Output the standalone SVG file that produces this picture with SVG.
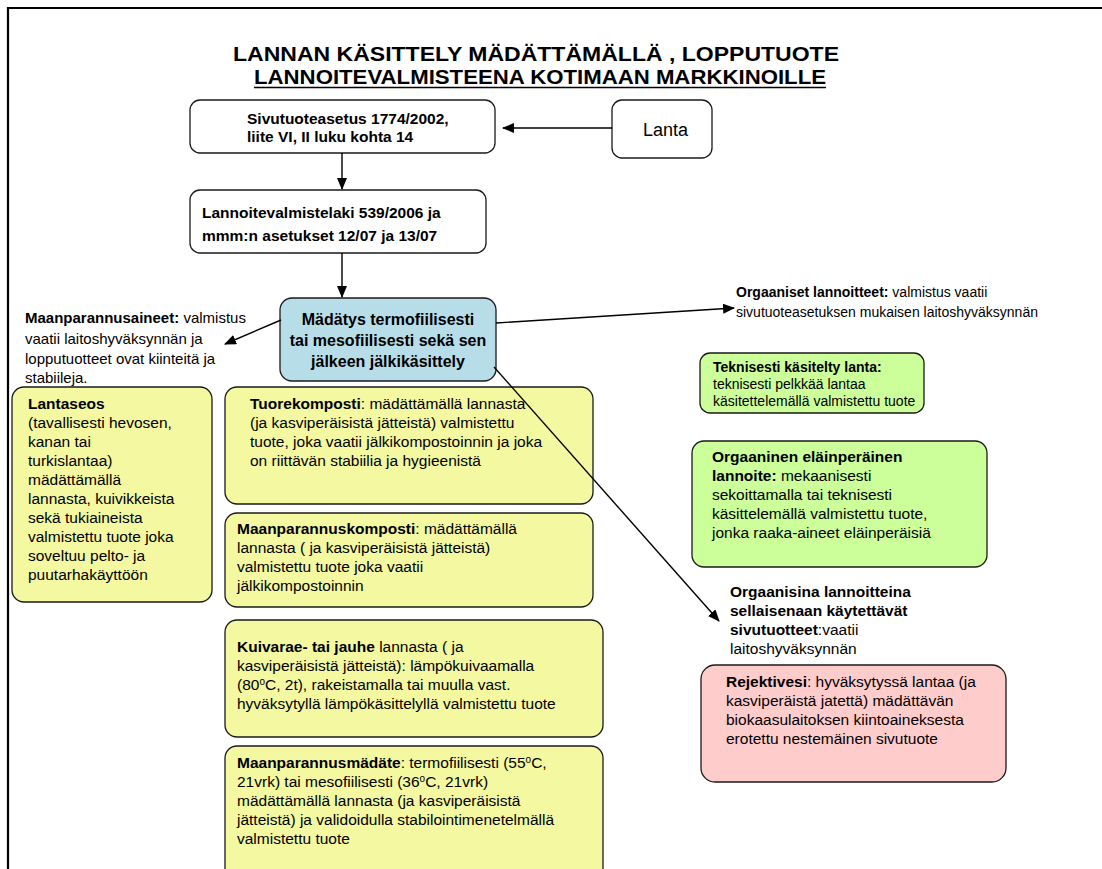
<svg xmlns="http://www.w3.org/2000/svg" width="1102" height="869" viewBox="0 0 1102 869">
  <style>
    .t { font-family: "Liberation Sans", Arial, sans-serif; font-size: 15.5px; fill: #000; }
    .s { font-size: 14px; }
    .m { font-size: 15px; }
    .b { font-weight: bold; }
    .box { stroke: #1a1a1a; stroke-width: 1.3; }
    .white { fill: #ffffff; }
    .yellow { fill: #f3f8a1; }
    .green { fill: #ccff99; }
    .teal { fill: #b7dde8; }
    .pink { fill: #ffcccc; }
    .edge { fill: none; stroke: #000; stroke-width: 1.4; }
    .title { font-family: "Liberation Sans Narrow", "Liberation Sans", Arial, sans-serif; font-size: 20px; font-weight: bold; fill: #000; }
  </style>
  <defs>
    <marker id="arrow" markerUnits="userSpaceOnUse" markerWidth="12" markerHeight="10" refX="11" refY="5" orient="auto">
      <path d="M0,0 L12,5 L0,10 Z" fill="#000"/>
    </marker>
  </defs>

  <rect width="1102" height="869" fill="#ffffff"/>
  <!-- page frame -->
  <path d="M8,869 V8 H1102" fill="none" stroke="#000" stroke-width="2.2"/>

  <!-- heading -->
  <g id="heading">
    <text class="title" x="536" y="61" text-anchor="middle" textLength="606" lengthAdjust="spacingAndGlyphs">LANNAN KÄSITTELY MÄDÄTTÄMÄLLÄ , LOPPUTUOTE</text>
    <text class="title" x="540" y="84" text-anchor="middle" textLength="572" lengthAdjust="spacingAndGlyphs">LANNOITEVALMISTEENA KOTIMAAN MARKKINOILLE</text>
    <line x1="254" y1="87.5" x2="826" y2="87.5" stroke="#000" stroke-width="1.6"/>
  </g>

  <g id="sivutuoteasetus">
    <rect class="box white" x="190" y="100" width="305" height="53" rx="10"/>
    <text class="t b" x="247" y="124">Sivutuoteasetus 1774/2002,</text>
    <text class="t b" x="247" y="142">liite VI, II luku kohta 14</text>
  </g>

  <g id="lanta">
    <rect class="box white" x="612" y="100" width="100" height="58" rx="10"/>
    <text class="t" x="643" y="136" style="font-size:18px">Lanta</text>
  </g>

  <g id="lannoitevalmistelaki">
    <rect class="box white" x="190" y="190" width="296" height="63" rx="10"/>
    <text class="t b" x="202" y="218">Lannoitevalmistelaki 539/2006 ja</text>
    <text class="t b" x="202" y="241">mmm:n asetukset 12/07 ja 13/07</text>
  </g>

  <g id="madatys">
    <rect class="box teal" x="280" y="298" width="216" height="83" rx="12"/>
    <text class="t b" x="388" y="325" text-anchor="middle" style="font-size:16px">Mädätys termofiilisesti</text>
    <text class="t b" x="388" y="346" text-anchor="middle" style="font-size:16px">tai mesofiilisesti sekä sen</text>
    <text class="t b" x="388" y="367" text-anchor="middle" style="font-size:16px">jälkeen jälkikäsittely</text>
  </g>

  <g id="maanparannusaineet">
    <text class="t m" x="25" y="323"><tspan class="b">Maanparannusaineet:</tspan> valmistus</text>
    <text class="t m" x="25" y="344">vaatii laitoshyväksynnän  ja</text>
    <text class="t m" x="25" y="364">lopputuotteet ovat kiinteitä ja</text>
    <text class="t m" x="25" y="383">stabiileja.</text>
  </g>

  <g id="orgaaniset-lannoitteet">
    <text class="t s" x="736" y="297"><tspan class="b">Orgaaniset lannoitteet:</tspan> valmistus vaatii</text>
    <text class="t s" x="736" y="317">sivutuoteasetuksen mukaisen laitoshyväksynnän</text>
  </g>

  <g id="lantaseos">
    <rect class="box yellow" x="12" y="387" width="200" height="215" rx="12"/>
    <text class="t b" x="28" y="409">Lantaseos</text>
    <text class="t" x="28" y="428">(tavallisesti hevosen,</text>
    <text class="t" x="28" y="447">kanan tai</text>
    <text class="t" x="28" y="466">turkislantaa)</text>
    <text class="t" x="28" y="485">mädättämällä</text>
    <text class="t" x="28" y="504">lannasta, kuivikkeista</text>
    <text class="t" x="28" y="523">sekä tukiaineista</text>
    <text class="t" x="28" y="542">valmistettu tuote joka</text>
    <text class="t" x="28" y="561">soveltuu pelto- ja</text>
    <text class="t" x="28" y="580">puutarhakäyttöön</text>
  </g>

  <g id="tuorekomposti">
    <rect class="box yellow" x="225" y="387" width="368" height="117" rx="12"/>
    <text class="t" x="250" y="409"><tspan class="b">Tuorekomposti</tspan>: mädättämällä lannasta</text>
    <text class="t" x="250" y="428">(ja kasviperäisistä jätteistä) valmistettu</text>
    <text class="t" x="250" y="447">tuote, joka vaatii jälkikompostoinnin ja joka</text>
    <text class="t" x="250" y="466">on riittävän stabiilia ja hygieenistä</text>
  </g>

  <g id="maanparannuskomposti">
    <rect class="box yellow" x="225" y="513" width="368" height="94" rx="12"/>
    <text class="t" x="237" y="534"><tspan class="b">Maanparannuskomposti</tspan>: mädättämällä</text>
    <text class="t" x="237" y="553">lannasta ( ja kasviperäisistä jätteistä)</text>
    <text class="t" x="237" y="572">valmistettu tuote joka vaatii</text>
    <text class="t" x="237" y="591">jälkikompostoinnin</text>
  </g>

  <g id="kuivarae">
    <rect class="box yellow" x="225" y="620" width="378" height="117" rx="12"/>
    <text class="t" x="237" y="652"><tspan class="b">Kuivarae- tai jauhe</tspan> lannasta ( ja</text>
    <text class="t" x="237" y="671">kasviperäisistä jätteistä): lämpökuivaamalla</text>
    <text class="t" x="237" y="690">(80<tspan font-size="10" dy="-5">o</tspan><tspan dy="5">C, 2t), rakeistamalla tai muulla vast.</tspan></text>
    <text class="t" x="237" y="709">hyväksytyllä lämpökäsittelyllä valmistettu tuote</text>
  </g>

  <g id="maanparannusmadate">
    <rect class="box yellow" x="225" y="746" width="378" height="140" rx="12"/>
    <text class="t" x="237" y="768"><tspan class="b">Maanparannusmädäte</tspan>: termofiilisesti (55<tspan font-size="10" dy="-5">o</tspan><tspan dy="5">C,</tspan></text>
    <text class="t" x="237" y="787">21vrk) tai mesofiilisesti (36<tspan font-size="10" dy="-5">o</tspan><tspan dy="5">C, 21vrk)</tspan></text>
    <text class="t" x="237" y="806">mädättämällä lannasta (ja kasviperäisistä</text>
    <text class="t" x="237" y="825">jätteistä) ja validoidulla stabilointimenetelmällä</text>
    <text class="t" x="237" y="844">valmistettu tuote</text>
  </g>

  <g id="teknisesti-kasitelty">
    <rect class="box green" x="700" y="353" width="224" height="60" rx="10"/>
    <text class="t s b" x="713" y="372">Teknisesti käsitelty lanta:</text>
    <text class="t s" x="713" y="389">teknisesti pelkkää lantaa</text>
    <text class="t s" x="713" y="406">käsitettelemällä valmistettu tuote</text>
  </g>

  <g id="elainperainen-lannoite">
    <rect class="box green" x="692" y="441" width="295" height="126" rx="12"/>
    <text class="t b" x="712" y="462">Orgaaninen eläinperäinen</text>
    <text class="t" x="712" y="481"><tspan class="b">lannoite:</tspan> mekaanisesti</text>
    <text class="t" x="712" y="500">sekoittamalla tai teknisesti</text>
    <text class="t" x="712" y="519">käsittelemällä valmistettu tuote,</text>
    <text class="t" x="712" y="538">jonka raaka-aineet eläinperäisiä</text>
  </g>

  <g id="sivutuotteet">
    <text class="t b" x="730" y="597">Orgaanisina lannoitteina</text>
    <text class="t b" x="730" y="616">sellaisenaan käytettävät</text>
    <text class="t" x="730" y="635"><tspan class="b">sivutuotteet</tspan>:vaatii</text>
    <text class="t" x="730" y="654">laitoshyväksynnän</text>
  </g>

  <g id="rejektivesi">
    <rect class="box pink" x="701" y="665" width="305" height="117" rx="14"/>
    <text class="t" x="726" y="687"><tspan class="b">Rejektivesi</tspan>: hyväksytyssä lantaa (ja</text>
    <text class="t" x="726" y="706">kasviperäistä jatettä) mädättävän</text>
    <text class="t" x="726" y="725">biokaasulaitoksen kiintoaineksesta</text>
    <text class="t" x="726" y="744">erotettu nestemäinen sivutuote</text>
  </g>

  <!-- connectors, drawn over the boxes they cross -->
  <g id="connectors">
    <line class="edge" x1="612" y1="128" x2="503" y2="128" marker-end="url(#arrow)"/>
    <line class="edge" x1="342" y1="153" x2="342" y2="189" marker-end="url(#arrow)"/>
    <line class="edge" x1="342" y1="253" x2="342" y2="297" marker-end="url(#arrow)"/>
    <line class="edge" x1="281" y1="320" x2="225" y2="344" marker-end="url(#arrow)"/>
    <line class="edge" x1="496" y1="323" x2="734" y2="308" marker-end="url(#arrow)"/>
    <line class="edge" x1="494" y1="367" x2="719" y2="621" marker-end="url(#arrow)"/>
  </g>
</svg>
